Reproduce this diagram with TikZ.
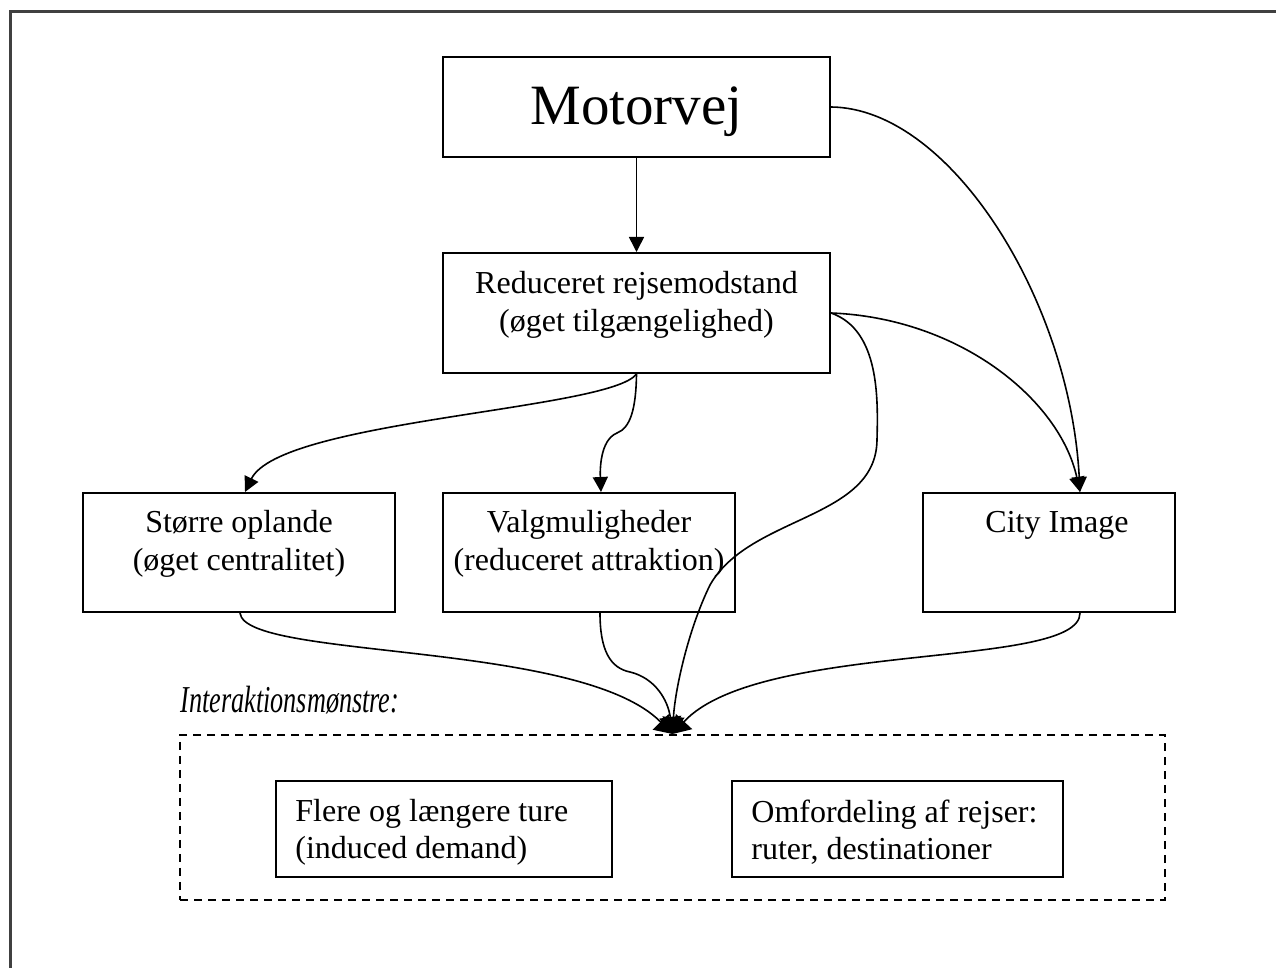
\documentclass[tikz,border=0pt]{standalone}
\usepackage{fontspec}
\setmainfont{Liberation Serif}
\usetikzlibrary{arrows.meta}
\begin{document}
\begin{tikzpicture}[x=0.5pt,y=-0.5pt,
  box/.style={draw,line width=1pt,inner sep=0pt},
  lbl/.style={font=\fontsize{16}{19}\selectfont,align=center,inner sep=0pt},
  lbll/.style={font=\fontsize{16}{18.5}\selectfont,align=left,inner sep=0pt,anchor=west},
  conn/.style={line width=0.8pt,-{Triangle[length=7.5pt,width=7.5pt]}},
  mconn/.style={line width=0.8pt,-{Triangle[length=8.5pt,width=11pt]}},
  dashbox/.style={draw,line width=1pt,dash pattern=on 4pt off 3pt,inner sep=0pt}]
\useasboundingbox (0,0) rectangle (1276,968);
\begin{scope}
  \clip (0,0) rectangle (1276,968);
  \draw[line width=1.5pt,draw=black!75] (10,990) -- (10,12) -- (1300,12);
\end{scope}

% boxes
\node[box,minimum width=193.5pt,minimum height=50pt] (motor) at (636.5,107) {};
\node[inner sep=0pt,font=\fontsize{28.5}{34}\selectfont] (motortxt) at (636.5,112) {Motorvej};
\node[box,minimum width=193.5pt,minimum height=60pt] (reduc) at (636.5,313) {};
\node[lbl] (reductxt) at (636.5,305) {Reduceret rejsemodstand\\(øget tilgængelighed)};

\node[box,minimum width=156pt,minimum height=59.5pt] (storre) at (239,552.5) {};
\node[lbl] (storretxt) at (239,544) {Større oplande\\(øget centralitet)};

\node[box,minimum width=146pt,minimum height=59.5pt] (valg) at (589,552.5) {};
\node[lbl] (valgtxt) at (589,544) {Valgmuligheder\\(reduceret attraktion)};

\node[box,minimum width=126pt,minimum height=59.5pt] (city) at (1049,552.5) {};
\node[lbl] (citytxt) at (1057,525) {City Image};

\node[dashbox,minimum width=492.5pt,minimum height=82.5pt] (inter) at (672.5,817.5) {};
\node[inner sep=0pt,anchor=base west] (intertxt) at (180,712)
  {\scalebox{0.69}[1]{\fontsize{19}{22}\selectfont\itshape Interaktionsmønstre:}};

\node[box,minimum width=168pt,minimum height=48pt] (flere) at (444,829) {};
\node[lbll] (fleretxt) at ([xshift=10pt,yshift=-1.5pt]flere.west) {Flere og længere ture\\(induced demand)};

\node[box,minimum width=165.5pt,minimum height=48pt] (omf) at (897.5,829) {};
\node[lbll] (omftxt) at ([xshift=10pt,yshift=-1.5pt]omf.west) {Omfordeling af rejser:\\ruter, destinationer};

% connection points
\coordinate (cityin) at ([xshift=15.5pt]city.north);
\coordinate (storrein) at ([xshift=3pt]storre.north);
\coordinate (valgin) at ([xshift=6pt]valg.north);
\coordinate (storreout) at ([xshift=0.5pt]storre.south);
\coordinate (valgout) at ([xshift=5.5pt]valg.south);
\coordinate (cityout) at ([xshift=15.5pt]city.south);
\coordinate (merge) at (inter.north);

% connectors
\draw[conn] (motor.south) -- (reduc.north);
\draw[conn] (motor.east) .. controls (950,108) and (1070,300) .. (cityin);
\draw[conn] (reduc.east) .. controls (960,318) and (1060,400) .. (cityin);
\draw[mconn] (reduc.east) .. controls (880,330) and (878,400) .. (877,440)
  .. controls (876,520) and (750,515) .. (710,585)
  .. controls (688,630) and (675,690) .. (merge);
\draw[conn] (reduc.south) .. controls (610,410) and (280,420) .. (storrein);
\draw[conn] (reduc.south) .. controls (636,410) and (630,428) .. (617,433)
  .. controls (600,440) and (600,470) .. (valgin);
\draw[mconn] (storreout) .. controls (245,660) and (580,640) .. (merge);
\draw[mconn] (valgout) .. controls (600,650) and (610,668) .. (630,672)
  .. controls (655,678) and (668,700) .. (merge);
\draw[mconn] (cityout) .. controls (1080,670) and (760,640) .. (merge);
\end{tikzpicture}
\end{document}
